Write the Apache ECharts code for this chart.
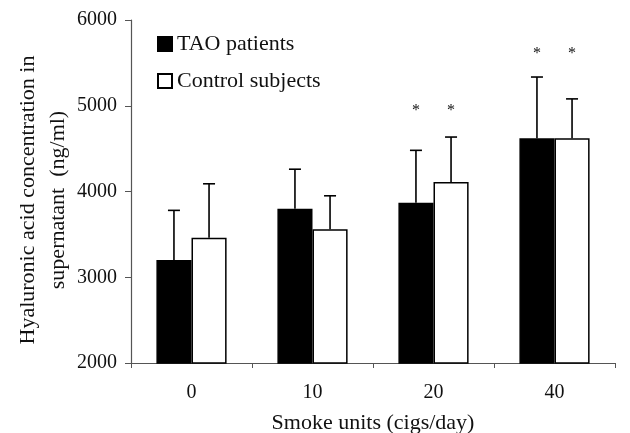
<!DOCTYPE html>
<html><head><meta charset="utf-8">
<script src="https://cdn.jsdelivr.net/npm/echarts@6/dist/echarts.min.js"></script>
<style>html,body{margin:0;padding:0;background:#fff}#c{width:630px;height:433px}</style>
</head><body><div id="c"></div>
<script>
var categories = ['0', '10', '20', '40'];
var taoMeans = [3200, 3800, 3870, 4620];
var taoErrTop = [3780, 4260, 4480, 5335];
var ctrlMeans = [3460, 3560, 4110, 4620];
var ctrlErrTop = [4090, 3950, 4635, 5080];
var starLevel = [null, null, 4980, 5640];
var yTicks = [2000, 3000, 4000, 5000, 6000];
var yTitle = 'Hyaluronic acid concentration in\nsupernatant  (ng/ml)';
var xTitle = 'Smoke units (cigs/day)';

var FONT = '"Liberation Serif", "Times New Roman", serif';
var BAR_FRAC = 0.29;

var errData = [];
for (var i = 0; i < categories.length; i++) {
  errData.push([i, taoMeans[i], taoErrTop[i], 0]);
  errData.push([i, ctrlMeans[i], ctrlErrTop[i], 1]);
}
var starData = [];
for (var j = 0; j < categories.length; j++) {
  if (starLevel[j] != null) {
    starData.push([j, starLevel[j], 0]);
    starData.push([j, starLevel[j], 1]);
  }
}

function offsetFor(api, s) {
  var band = api.size([1, 0])[0];
  var w = band * BAR_FRAC;
  return (s === 0 ? -0.5 : 0.5) * w;
}

var chart = echarts.init(document.getElementById('c'), null, {renderer: 'canvas'});
chart.setOption({
  animation: false,
  backgroundColor: '#fff',
  textStyle: {fontFamily: FONT},
  grid: {left: 131, right: 15, top: 20, bottom: 70, containLabel: false, outerBoundsMode: 'none'},
  legend: {
    orient: 'vertical', left: 152, top: 28, itemWidth: 14, itemHeight: 14, itemGap: 15,
    icon: 'rect',
    textStyle: {fontFamily: FONT, fontSize: 22, color: '#111'},
    data: ['TAO patients', 'Control subjects']
  },
  graphic: [{
    type: 'text', x: 43, y: 200, rotation: Math.PI / 2,
    style: {text: yTitle, fontFamily: FONT, fontSize: 22, fill: '#111', lineHeight: 30,
      align: 'center', verticalAlign: 'middle'}
  }],
  xAxis: {
    type: 'category', data: categories,
    name: xTitle, nameLocation: 'middle', nameGap: 49,
    nameTextStyle: {fontFamily: FONT, fontSize: 22, color: '#111'},
    axisLine: {lineStyle: {color: '#555', width: 1.2}},
    axisTick: {show: true, length: 5, inside: false, lineStyle: {color: '#555'}},
    axisLabel: {fontFamily: FONT, fontSize: 20, color: '#111', margin: 20}
  },
  yAxis: {
    type: 'value', min: 2000, max: 6000, interval: 1000,
    axisLine: {show: true, lineStyle: {color: '#555', width: 1.2}},
    axisTick: {show: true, length: 6, lineStyle: {color: '#555'}},
    splitLine: {show: false},
    axisLabel: {fontFamily: FONT, fontSize: 20, color: '#111', margin: 14,
      formatter: function (v) { return yTicks.indexOf(v) >= 0 ? String(v) : ''; }}
  },
  series: [
    {
      name: 'TAO patients', type: 'bar', data: taoMeans, barWidth: (BAR_FRAC * 100) + '%', barGap: '0%',
      itemStyle: {color: '#000', borderColor: '#000', borderWidth: 1.5}
    },
    {
      name: 'Control subjects', type: 'bar', data: ctrlMeans, barWidth: (BAR_FRAC * 100) + '%', barGap: '0%',
      itemStyle: {color: '#fff', borderColor: '#000', borderWidth: 1.5}
    },
    {
      type: 'custom', data: errData, encode: {x: 0, y: [1, 2]}, z: 5,
      renderItem: function (params, api) {
        var c = api.value(0), m = api.value(1), t = api.value(2), s = api.value(3);
        var p0 = api.coord([c, m]);
        var p1 = api.coord([c, t]);
        var x = p0[0] + offsetFor(api, s);
        var style = {stroke: '#000', lineWidth: 1.6};
        return {type: 'group', children: [
          {type: 'line', shape: {x1: x, y1: p0[1], x2: x, y2: p1[1]}, style: style},
          {type: 'line', shape: {x1: x - 6, y1: p1[1], x2: x + 6, y2: p1[1]}, style: style}
        ]};
      }
    },
    {
      type: 'custom', data: starData, encode: {x: 0, y: 1}, z: 5,
      renderItem: function (params, api) {
        var c = api.value(0), v = api.value(1), s = api.value(2);
        var p = api.coord([c, v]);
        return {type: 'text', x: p[0] + offsetFor(api, s), y: p[1] + 3,
          style: {text: '*', fontFamily: FONT, fontSize: 16, fill: '#111', align: 'center', verticalAlign: 'middle'}};
      }
    }
  ]
});
</script>
</body></html>
